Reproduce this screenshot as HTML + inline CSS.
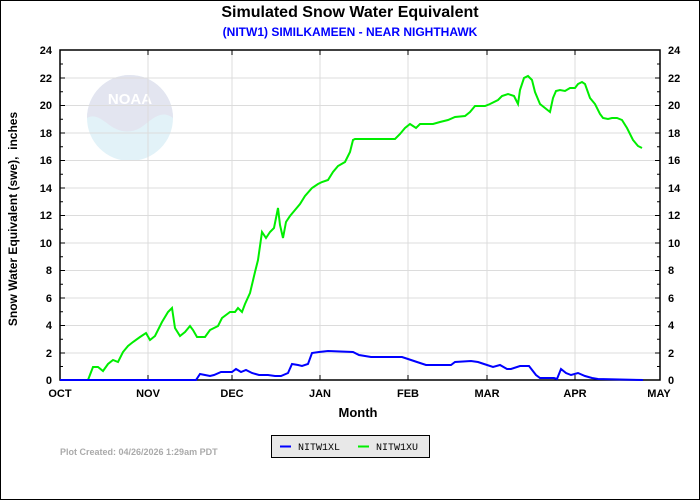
<!DOCTYPE html>
<html><head><meta charset="utf-8"><style>
body{margin:0;background:#fff}
svg{display:block;font-family:"Liberation Sans",Arial,sans-serif}
</style></head><body>
<svg width="700" height="500" viewBox="0 0 700 500" xmlns="http://www.w3.org/2000/svg">
<rect x="0.5" y="0.5" width="699" height="499" fill="#fff" stroke="#000"/>
<text x="350" y="17" text-anchor="middle" font-size="16" font-weight="bold">Simulated Snow Water Equivalent</text>
<text x="350" y="36" text-anchor="middle" font-size="12" font-weight="bold" fill="#0000ff">(NITW1) SIMILKAMEEN - NEAR NIGHTHAWK</text>
<!-- NOAA logo -->
<g>
<circle cx="130" cy="118" r="43" fill="#e2f2f8"/>
<path d="M87,118 A43,43 0 0 1 173,118 C160,108 150,122 140,128 C130,134 118,132 108,124 C100,118 94,114 87,118Z" fill="#e3e5f0"/>
<text x="130" y="104" text-anchor="middle" font-size="15" font-weight="bold" fill="#fff">NOAA</text>
</g>
<!-- grid -->
<g stroke="#dcdcdc" stroke-width="1">
<line x1="60" y1="78" x2="660" y2="78"/><line x1="60" y1="105.5" x2="660" y2="105.5"/>
<line x1="60" y1="133" x2="660" y2="133"/><line x1="60" y1="160.5" x2="660" y2="160.5"/>
<line x1="60" y1="188" x2="660" y2="188"/><line x1="60" y1="215.5" x2="660" y2="215.5"/>
<line x1="60" y1="243" x2="660" y2="243"/><line x1="60" y1="270.5" x2="660" y2="270.5"/>
<line x1="60" y1="298" x2="660" y2="298"/><line x1="60" y1="325.5" x2="660" y2="325.5"/>
<line x1="60" y1="353" x2="660" y2="353"/>
<line x1="148" y1="50" x2="148" y2="380"/><line x1="232" y1="50" x2="232" y2="380"/>
<line x1="320" y1="50" x2="320" y2="380"/><line x1="408" y1="50" x2="408" y2="380"/>
<line x1="487" y1="50" x2="487" y2="380"/><line x1="575" y1="50" x2="575" y2="380"/>
</g>
<rect x="60" y="50" width="600" height="330" fill="none" stroke="#000" stroke-width="1.5"/>
<!-- ticks -->
<g stroke="#000" stroke-width="1">
<path d="M60,50h5M60,78h5M60,105.5h5M60,133h5M60,160.5h5M60,188h5M60,215.5h5M60,243h5M60,270.5h5M60,298h5M60,325.5h5M60,353h5
M60,64h3M60,91.75h3M60,119.25h3M60,146.75h3M60,174.25h3M60,201.75h3M60,229.25h3M60,256.75h3M60,284.25h3M60,311.75h3M60,339.25h3M60,366.5h3
M660,50h-5M660,78h-5M660,105.5h-5M660,133h-5M660,160.5h-5M660,188h-5M660,215.5h-5M660,243h-5M660,270.5h-5M660,298h-5M660,325.5h-5M660,353h-5
M660,64h-3M660,91.75h-3M660,119.25h-3M660,146.75h-3M660,174.25h-3M660,201.75h-3M660,229.25h-3M660,256.75h-3M660,284.25h-3M660,311.75h-3M660,339.25h-3M660,366.5h-3
M148,50v5M232,50v5M320,50v5M408,50v5M487,50v5M575,50v5
M148,380v-5M232,380v-5M320,380v-5M408,380v-5M487,380v-5M575,380v-5"/>
</g>
<g font-size="11" font-weight="bold" text-anchor="end">
<text x="52" y="54">24</text><text x="52" y="82">22</text><text x="52" y="109">20</text><text x="52" y="137">18</text>
<text x="52" y="164">16</text><text x="52" y="192">14</text><text x="52" y="219">12</text><text x="52" y="247">10</text>
<text x="52" y="274">8</text><text x="52" y="302">6</text><text x="52" y="329">4</text><text x="52" y="357">2</text><text x="52" y="384">0</text>
</g>
<g font-size="11" font-weight="bold" text-anchor="start">
<text x="668" y="54">24</text><text x="668" y="82">22</text><text x="668" y="109">20</text><text x="668" y="137">18</text>
<text x="668" y="164">16</text><text x="668" y="192">14</text><text x="668" y="219">12</text><text x="668" y="247">10</text>
<text x="668" y="274">8</text><text x="668" y="302">6</text><text x="668" y="329">4</text><text x="668" y="357">2</text><text x="668" y="384">0</text>
</g>
<g font-size="11" font-weight="bold" text-anchor="middle">
<text x="60" y="397">OCT</text><text x="148" y="397">NOV</text><text x="232" y="397">DEC</text><text x="320" y="397">JAN</text>
<text x="408" y="397">FEB</text><text x="487" y="397">MAR</text><text x="575" y="397">APR</text><text x="659" y="397">MAY</text>
</g>
<text x="358" y="417" text-anchor="middle" font-size="13" font-weight="bold">Month</text>
<text transform="translate(17,219) rotate(-90)" text-anchor="middle" font-size="12" font-weight="bold" xml:space="preserve">Snow Water Equivalent (swe),  inches</text>
<!-- series -->
<polyline fill="none" stroke="#00ee00" stroke-width="2" points="60,380 88,380 93,367 98,367 103,371 108,364 113,360 118,362 123,352 128,346 133,342 140,337 146,333 150,340 155,336 162,322 168,312 172,308 175,328 180,336 185,332 190,326 193,330 197,337 205,337 210,330 218,326 222,318 230,312 235,312 238,308 242,312 245,304 250,293 255,272 258,260 262,232 266,238 270,232 274,228 278,208 280,225 283,238 286,222 290,216 295,210 300,204 305,196 312,188 318,184 322,182 328,180 333,172 338,166 345,162 350,152 353,140 355,139 385,139 395,139 400,134 405,128 410,124 413,126 416,128 420,124 428,124 433,124 440,122 448,120 455,117 465,116 470,112 475,106 485,106 490,104 498,100 502,96 508,94 514,96 518,104 520,90 524,78 528,76 532,80 535,92 540,104 545,108 550,112 553,98 556,91 560,90 565,91 570,88 575,88 578,84 582,82 585,84 590,98 595,104 600,114 603,118 608,119 612,118 617,118 622,120 627,128 633,140 638,146 642,148"/>
<polyline fill="none" stroke="#0000ff" stroke-width="2" points="60,380 196,380 200,374 205,375 210,376 214,375 221,372 232,372 236,369 241,372 246,370 252,373 259,375 268,375 275,376 281,376 288,373 292,364 298,365 302,366 308,364 312,353 319,352 328,351 353,352 359,355 371,357 402,357 408,359 417,362 426,365 451,365 455,362 471,361 478,362 484,364 493,367 500,365 507,369 511,369 520,366 529,366 536,375 540,378 554,378 557,379 561,369 566,373 571,375 578,373 585,376 592,378 598,379 643,380"/>
<!-- legend -->
<rect x="271.5" y="435.5" width="158" height="22" fill="#e8e8e8" stroke="#000"/>
<line x1="280" y1="446.5" x2="291" y2="446.5" stroke="#0000ff" stroke-width="2"/>
<text x="298" y="450" font-size="10" font-family="Liberation Mono,monospace">NITW1XL</text>
<line x1="358" y1="446.5" x2="369" y2="446.5" stroke="#00ee00" stroke-width="2"/>
<text x="376" y="450" font-size="10" font-family="Liberation Mono,monospace">NITW1XU</text>
<text x="60" y="455" font-size="9" fill="#aaaaaa" font-weight="bold">Plot Created: 04/26/2026 1:29am PDT</text>
</svg>
</body></html>
